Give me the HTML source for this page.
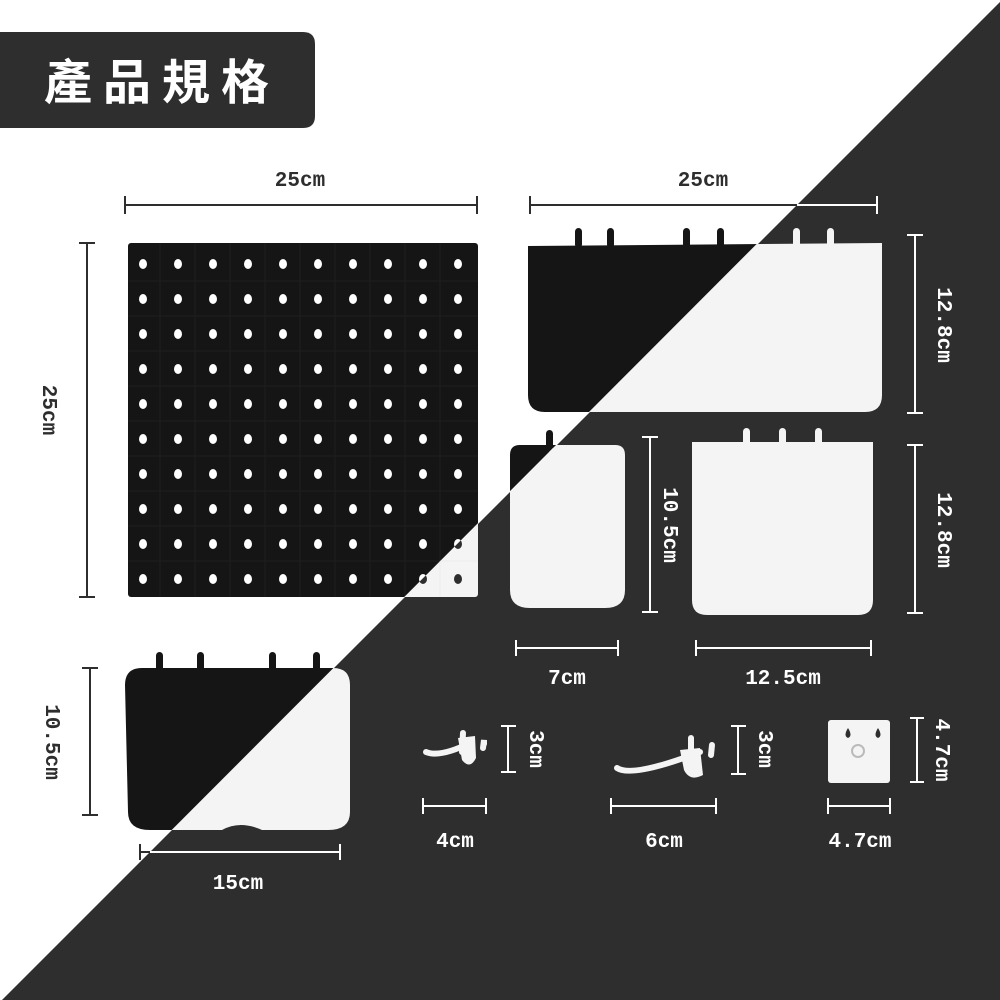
<!DOCTYPE html>
<html><head><meta charset="utf-8"><style>
html,body{margin:0;padding:0;background:#fff}
svg{display:block}
.t{font-family:"Liberation Mono","Noto Sans CJK TC",monospace;font-weight:bold;font-size:21px}
</style></head><body>
<svg width="1000" height="1000" viewBox="0 0 1000 1000" xmlns="http://www.w3.org/2000/svg">
<defs>
<clipPath id="cl"><polygon points="0,0 1002,0 0,1002"/></clipPath>
<clipPath id="cd"><polygon points="1002,0 1000,0 1000,1000 0,1000 0,1002 1100,-100"/></clipPath>
<g id="items">
 <rect x="128" y="243" width="350" height="354" rx="3" fill="currentColor"/>
 <g stroke="var(--ln)" stroke-width="1" fill="none">
  <path d="M160,243V597 M195,243V597 M230,243V597 M265,243V597 M300,243V597 M335,243V597 M370,243V597 M405,243V597 M440,243V597"/>
  <path d="M128,281H478 M128,316H478 M128,351H478 M128,386H478 M128,421H478 M128,456H478 M128,491H478 M128,526H478 M128,561H478"/>
 </g>
 <g fill="var(--bg)">
  <g id="row">
   <ellipse cx="143" cy="0" rx="4" ry="5"/><ellipse cx="178" cy="0" rx="4" ry="5"/><ellipse cx="213" cy="0" rx="4" ry="5"/><ellipse cx="248" cy="0" rx="4" ry="5"/><ellipse cx="283" cy="0" rx="4" ry="5"/><ellipse cx="318" cy="0" rx="4" ry="5"/><ellipse cx="353" cy="0" rx="4" ry="5"/><ellipse cx="388" cy="0" rx="4" ry="5"/><ellipse cx="423" cy="0" rx="4" ry="5"/><ellipse cx="458" cy="0" rx="4" ry="5"/>
  </g>
  <use href="#row" y="264"/><use href="#row" y="299"/><use href="#row" y="334"/><use href="#row" y="369"/><use href="#row" y="404"/><use href="#row" y="439"/><use href="#row" y="474"/><use href="#row" y="509"/><use href="#row" y="544"/><use href="#row" y="579"/>
 </g>
 <g fill="currentColor">
  <rect x="575" y="228" width="7" height="20" rx="3.5"/><rect x="607" y="228" width="7" height="20" rx="3.5"/><rect x="683" y="228" width="7" height="20" rx="3.5"/><rect x="717" y="228" width="7" height="20" rx="3.5"/><rect x="793" y="228" width="7" height="20" rx="3.5"/><rect x="827" y="228" width="7" height="20" rx="3.5"/>
  <path d="M528,246 L882,243 L882,395 Q882,412 865,412 L545,412 Q528,412 528,395 Z"/>
  <rect x="546" y="430" width="7" height="22" rx="3.5"/>
  <path d="M510,455 Q510,445 520,445 L615,445 Q625,445 625,455 L625,590 Q625,608 605,608 L530,608 Q510,608 510,590 Z"/>
  <rect x="743" y="428" width="7" height="20" rx="3.5"/><rect x="779" y="428" width="7" height="20" rx="3.5"/><rect x="815" y="428" width="7" height="20" rx="3.5"/>
  <path d="M692,442 L873,442 L873,600 Q873,615 858,615 L707,615 Q692,615 692,600 Z"/>
  <rect x="156" y="652" width="7" height="22" rx="3.5"/><rect x="197" y="652" width="7" height="22" rx="3.5"/><rect x="269" y="652" width="7" height="22" rx="3.5"/><rect x="313" y="652" width="7" height="22" rx="3.5"/>
  <path d="M125,685 Q125,668 142,668 L333,668 Q350,668 350,685 L350,812 Q350,830 328,830 L262,830 Q240,820 222,830 L150,830 Q128,830 128,812 Z"/>
  <rect x="828" y="720" width="62" height="63" rx="3"/>
 </g>
 <g fill="var(--bg)">
  <path d="M848,728 q-5,8 0,10 q5,-2 0,-10z"/><path d="M878,728 q-5,8 0,10 q5,-2 0,-10z"/>
 </g>
 <circle cx="858" cy="751" r="6" fill="none" stroke="#bbb" stroke-width="2"/>
 <g stroke="currentColor" stroke-width="6" stroke-linecap="round" fill="none">
  <path d="M426,752 Q440,758 472,742"/><path d="M462,752 L463,733"/><path d="M483,748 L484,740 L484,744"/>
  <path d="M617,768 Q632,778 700,752"/><path d="M691,753 L691,738"/><path d="M711,755 L712,745"/>
 </g>
 <g fill="currentColor">
  <path d="M458,738 L475,736 L476,758 Q470,770 462,760 Z"/>
  <path d="M680,750 L700,748 L703,775 Q690,782 684,770 Z"/>
 </g>
</g>
</defs>
<rect width="1000" height="1000" fill="#fff"/>
<polygon points="1002,0 1000,0 1000,1000 0,1000 0,1002" fill="#2e2e2e"/>
<polygon points="1002,0 1000,1000 0,1002 1000,1002" fill="#2e2e2e"/>
<use href="#items" clip-path="url(#cl)" style="color:#151515;--bg:#ffffff;--ln:#1f1f1f"/>
<use href="#items" clip-path="url(#cd)" style="color:#f4f4f4;--bg:#2e2e2e;--ln:#ececec"/>

<path d="M0,32 L303,32 Q315,32 315,44 L315,116 Q315,128 303,128 L0,128 Z" fill="#2e2e2e"/>
<text x="44" y="99" fill="#fff" style="font-family:'Liberation Sans','Noto Sans CJK TC',sans-serif;font-weight:bold;font-size:48px;letter-spacing:11px">產品規格</text>

<g stroke="#2e2e2e" stroke-width="2" fill="none">
 <path d="M125,205 H477 M125,196 V214 M477,196 V214"/>
 <path d="M530,205 H797 M530,196 V214"/>
 <path d="M87,243 V597 M79,243 H95 M79,597 H95"/>
 <path d="M90,668 V815 M82,668 H98 M82,815 H98"/>
 <path d="M140,852 H151 M140,844 V860"/>
</g>
<g stroke="#fff" stroke-width="2" fill="none">
 <path d="M797,205 H877 M877,196 V214"/>
 <path d="M915,235 V413 M907,235 H923 M907,413 H923"/>
 <path d="M915,445 V613 M907,445 H923 M907,613 H923"/>
 <path d="M650,437 V612 M642,437 H658 M642,612 H658"/>
 <path d="M516,648 H618 M516,640 V656 M618,640 V656"/>
 <path d="M696,648 H871 M696,640 V656 M871,640 V656"/>
 <path d="M150,852 H340 M340,844 V860"/>
 <path d="M508,726 V772 M501,726 H516 M501,772 H516"/>
 <path d="M423,806 H486 M423,798 V814 M486,798 V814"/>
 <path d="M738,726 V774 M731,726 H746 M731,774 H746"/>
 <path d="M611,806 H716 M611,798 V814 M716,798 V814"/>
 <path d="M917,718 V782 M910,718 H924 M910,782 H924"/>
 <path d="M828,806 H890 M828,798 V814 M890,798 V814"/>
</g>

<g class="t" text-anchor="middle">
 <text x="300" y="186" fill="#2e2e2e">25cm</text>
 <text x="703" y="186" fill="#2e2e2e">25cm</text>
 <text transform="translate(43,410) rotate(90)" fill="#2e2e2e">25cm</text>
 <text transform="translate(46,742) rotate(90)" fill="#2e2e2e">10.5cm</text>
 <text transform="translate(938,325) rotate(90)" fill="#fff">12.8cm</text>
 <text transform="translate(938,530) rotate(90)" fill="#fff">12.8cm</text>
 <text transform="translate(664,525) rotate(90)" fill="#fff">10.5cm</text>
 <text transform="translate(530,749) rotate(90)" fill="#fff">3cm</text>
 <text transform="translate(759,749) rotate(90)" fill="#fff">3cm</text>
 <text transform="translate(936,750) rotate(90)" fill="#fff">4.7cm</text>
 <text x="567" y="684" fill="#fff">7cm</text>
 <text x="783" y="684" fill="#fff">12.5cm</text>
 <text x="238" y="889" fill="#fff">15cm</text>
 <text x="455" y="847" fill="#fff">4cm</text>
 <text x="664" y="847" fill="#fff">6cm</text>
 <text x="860" y="847" fill="#fff">4.7cm</text>
</g>
</svg>
</body></html>
